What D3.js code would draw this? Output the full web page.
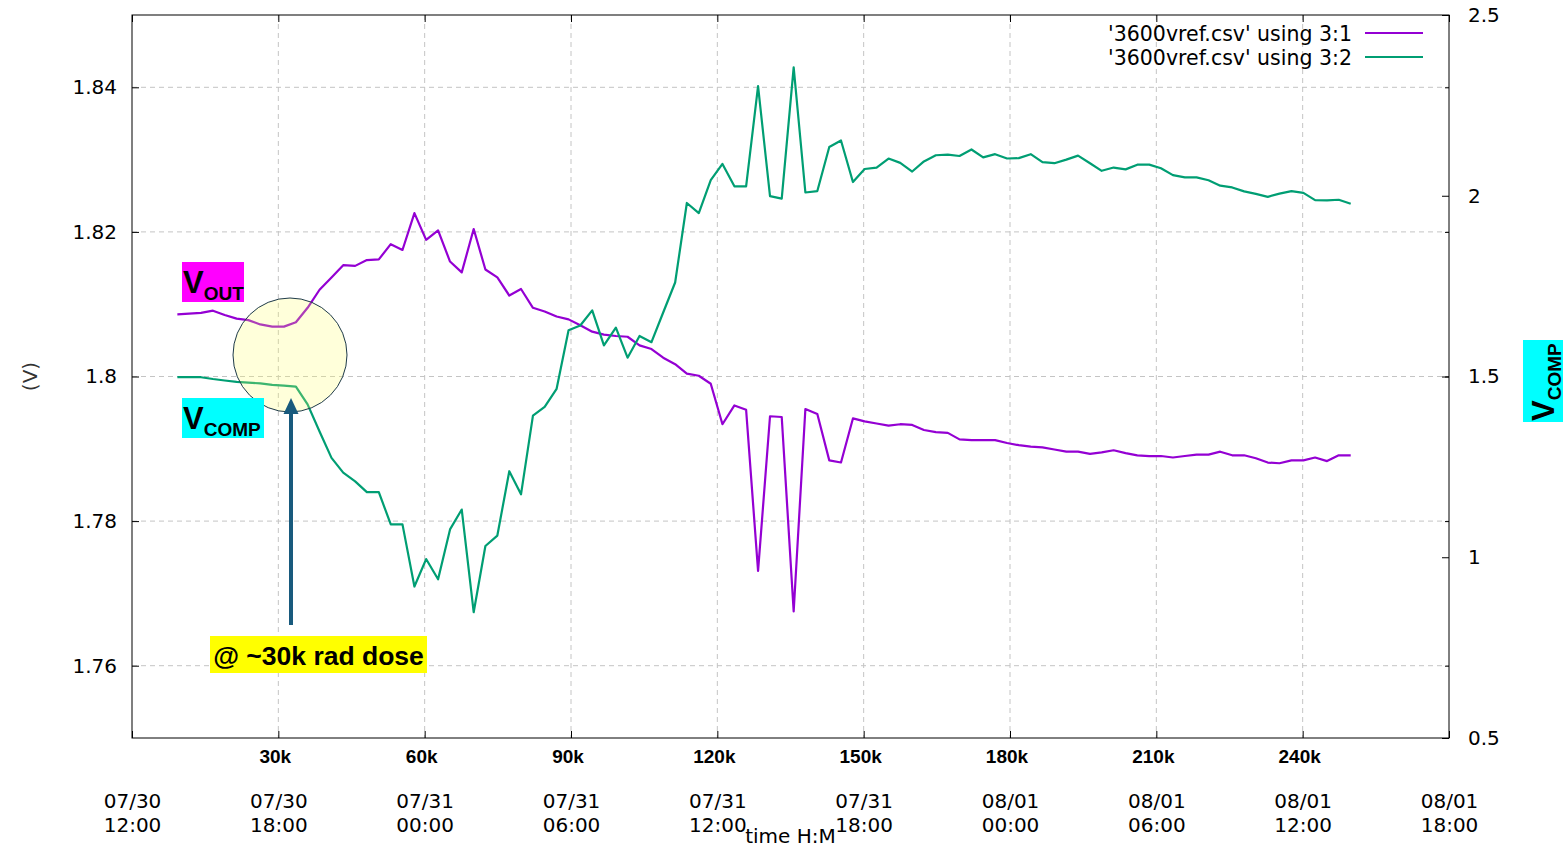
<!DOCTYPE html>
<html>
<head>
<meta charset="utf-8">
<title>3600vref</title>
<script src="https://cdn.jsdelivr.net/npm/d3@7"></script>
<style>
    body { margin: 0; background: #fff; }
    .axis text { font-family: "DejaVu Sans", sans-serif; font-size: 20px; fill: #000; }
    .axis line { stroke: #000; }
    .axis path { display: none; }
    .grid line { stroke: #c4c4c4; stroke-dasharray: 5,4; }
    .dose text { font-family: "Liberation Sans", Arial, sans-serif; font-weight: bold; font-size: 19px; }
    .legend text { font-family: "DejaVu Sans", sans-serif; font-size: 20.5px; }
    .tag text { font-family: "Liberation Sans", Arial, sans-serif; font-weight: bold; fill: #000; }
</style>
</head>
<body>
<div id="chart"></div>
<script>

// sample times, hours after 07/30 12:00
const hours = [
    1.86, 2.34, 2.83, 3.32, 3.80, 4.29, 4.77, 5.26, 5.75, 6.23,
    6.72, 7.20, 7.69, 8.18, 8.66, 9.15, 9.63, 10.12, 10.61, 11.09,
    11.58, 12.06, 12.55, 13.04, 13.52, 14.01, 14.49, 14.98, 15.47, 15.95,
    16.44, 16.92, 17.41, 17.90, 18.38, 18.87, 19.35, 19.84, 20.32, 20.81,
    21.30, 21.78, 22.27, 22.75, 23.24, 23.73, 24.21, 24.70, 25.18, 25.67,
    26.16, 26.64, 27.13, 27.61, 28.10, 28.59, 29.07, 29.56, 30.04, 30.53,
    31.02, 31.50, 31.99, 32.47, 32.96, 33.45, 33.93, 34.42, 34.90, 35.39,
    35.88, 36.36, 36.85, 37.33, 37.82, 38.31, 38.79, 39.28, 39.76, 40.25,
    40.74, 41.22, 41.71, 42.19, 42.68, 43.17, 43.65, 44.14, 44.62, 45.11,
    45.60, 46.08, 46.57, 47.05, 47.54, 48.03, 48.51, 49.00, 49.48, 49.97
];

// column 1 -> VOUT (left axis)
const vout = [
    1.8086, 1.8087, 1.8088, 1.8091, 1.8085, 1.8080, 1.8078, 1.8072, 1.8069, 1.8069,
    1.8075, 1.8095, 1.8120, 1.8137, 1.8154, 1.8153, 1.8161, 1.8162, 1.8183, 1.8175,
    1.8226, 1.8189, 1.8202, 1.8159, 1.8144, 1.8204, 1.8148, 1.8137, 1.8112, 1.8121,
    1.8095, 1.8090, 1.8083, 1.8079, 1.8071, 1.8062, 1.8058, 1.8056, 1.8055, 1.8043,
    1.8038, 1.8026, 1.8017, 1.8004, 1.8001, 1.7990, 1.7934, 1.7960, 1.7954, 1.7731,
    1.7945, 1.7944, 1.7675, 1.7955, 1.7948, 1.7884, 1.7881, 1.7942, 1.7938, 1.7935,
    1.7932, 1.7934, 1.7933, 1.7926, 1.7923, 1.7922, 1.7913, 1.7912, 1.7912, 1.7912,
    1.7908, 1.7905, 1.7903, 1.7902, 1.7899, 1.7896, 1.7896, 1.7893, 1.7895, 1.7898,
    1.7894, 1.7891, 1.7890, 1.7890, 1.7888, 1.7890, 1.7892, 1.7892, 1.7896, 1.7891,
    1.7891, 1.7887, 1.7881, 1.7880, 1.7884, 1.7884, 1.7888, 1.7883, 1.7891, 1.7891
];

// column 2 -> VCOMP (right axis)
const vcomp = [
    1.498, 1.498, 1.498, 1.493, 1.489, 1.485, 1.483, 1.481, 1.477, 1.475,
    1.472, 1.423, 1.348, 1.275, 1.234, 1.210, 1.180, 1.180, 1.091, 1.091,
    0.919, 0.995, 0.939, 1.077, 1.132, 0.848, 1.031, 1.060, 1.238, 1.174,
    1.392, 1.416, 1.466, 1.628, 1.641, 1.683, 1.586, 1.635, 1.552, 1.612,
    1.595, 1.677, 1.760, 1.980, 1.952, 2.043, 2.088, 2.026, 2.026, 2.303,
    1.999, 1.992, 2.355, 2.009, 2.013, 2.135, 2.153, 2.038, 2.074, 2.078,
    2.103, 2.091, 2.067, 2.095, 2.112, 2.114, 2.110, 2.128, 2.106, 2.115,
    2.103, 2.104, 2.115, 2.093, 2.090, 2.100, 2.111, 2.090, 2.069, 2.078,
    2.073, 2.086, 2.086, 2.076, 2.057, 2.051, 2.051, 2.043, 2.028, 2.023,
    2.012, 2.005, 1.997, 2.006, 2.013, 2.008, 1.988, 1.987, 1.989, 1.978
];

const leftTicks = [1.76, 1.78, 1.80, 1.82, 1.84];
const rightTicks = [0.5, 1, 1.5, 2, 2.5];
const doseTicks = [30000, 60000, 90000, 120000, 150000, 180000, 210000, 240000];
const legendLabels = ["'3600vref.csv' using 3:1", "'3600vref.csv' using 3:2"];


class VrefVis {

    constructor(parentElement) {
        this.parentElement = parentElement;

        // gnuplot default line colors
        this.colors = ['#9400d3', '#009e73'];

        this.startTime = new Date(2024, 6, 30, 12, 0);
        this.endTime = new Date(2024, 7, 1, 18, 0);

        this.initVis();
    }

    initVis() {
        let vis = this;

        vis.margin = {top: 15, right: 118, bottom: 111, left: 132};
        vis.width = 1567 - vis.margin.left - vis.margin.right;
        vis.height = 849 - vis.margin.top - vis.margin.bottom;

        vis.svg = d3.select("#" + vis.parentElement).append("svg")
            .attr("width", vis.width + vis.margin.left + vis.margin.right)
            .attr("height", vis.height + vis.margin.top + vis.margin.bottom)
            .append("g")
            .attr("transform", "translate(" + vis.margin.left + "," + vis.margin.top + ")");

        // scales
        vis.x = d3.scaleTime()
            .domain([vis.startTime, vis.endTime])
            .range([0, vis.width]);

        // 5k rad per hour, so 270k at the right edge
        vis.dose = d3.scaleLinear()
            .domain([0, 270000])
            .range([0, vis.width]);

        vis.y = d3.scaleLinear()
            .domain([1.75, 1.85])
            .range([vis.height, 0]);

        vis.y2 = d3.scaleLinear()
            .domain([0.5, 2.5])
            .range([vis.height, 0]);

        vis.timeTicks = d3.timeHour.every(6).range(vis.startTime, d3.timeMinute.offset(vis.endTime, 1));

        // grid
        vis.svg.append("g")
            .attr("class", "grid")
            .selectAll("line.h")
            .data(leftTicks)
            .enter().append("line")
            .attr("x1", 0)
            .attr("x2", vis.width)
            .attr("y1", d => vis.y(d))
            .attr("y2", d => vis.y(d));

        vis.svg.select(".grid")
            .selectAll("line.v")
            .data(vis.timeTicks.slice(1, -1))
            .enter().append("line")
            .attr("class", "v")
            .attr("x1", d => vis.x(d))
            .attr("x2", d => vis.x(d))
            .attr("y1", 0)
            .attr("y2", vis.height);

        // border
        vis.svg.append("rect")
            .attr("width", vis.width)
            .attr("height", vis.height)
            .attr("fill", "none")
            .attr("stroke", "#000")
            .attr("stroke-width", 1);

        // left axis + mirror
        vis.svg.append("g")
            .attr("class", "axis")
            .call(d3.axisLeft(vis.y).tickValues(leftTicks).tickSize(-7).tickPadding(15).tickFormat(d => d));

        vis.svg.append("g")
            .attr("class", "axis")
            .attr("transform", `translate(${vis.width}, 0)`)
            .call(d3.axisRight(vis.y).tickValues(leftTicks).tickSize(-4).tickFormat(""));

        // right axis
        vis.svg.append("g")
            .attr("class", "axis")
            .attr("transform", `translate(${vis.width}, 0)`)
            .call(d3.axisRight(vis.y2).tickValues(rightTicks).tickSize(-7).tickPadding(19).tickFormat(d => d));

        // time axis at the bottom, two line labels
        vis.xAxisG = vis.svg.append("g")
            .attr("class", "axis")
            .attr("transform", `translate(0, ${vis.height})`)
            .call(d3.axisBottom(vis.x).tickValues(vis.timeTicks).tickSize(-7).tickFormat(""));

        vis.xAxisG.selectAll(".tick text").remove();
        vis.xAxisG.selectAll(".tick").append("text")
            .attr("text-anchor", "middle")
            .each(function (d) {
                let t = d3.select(this);
                t.append("tspan").attr("x", 0).attr("y", 70).text(d3.timeFormat("%m/%d")(d));
                t.append("tspan").attr("x", 0).attr("y", 94).text(d3.timeFormat("%H:%M")(d));
            });

        vis.svg.append("g")
            .attr("class", "axis")
            .call(d3.axisTop(vis.x).tickValues(vis.timeTicks).tickSize(-7).tickFormat(""));

        // dose labels under the plot (hand placed in the original, a bit left of the grid)
        vis.doseG = vis.svg.append("g")
            .attr("class", "axis dose")
            .attr("transform", `translate(0, ${vis.height})`)
            .call(d3.axisBottom(vis.dose).tickValues(doseTicks).tickSize(0).tickFormat(d => (d / 1000) + "k"));

        vis.doseG.selectAll(".tick text")
            .attr("y", 25)
            .attr("dy", null)
            .attr("dx", -3.5);

        // axis titles
        vis.svg.append("text")
            .attr("transform", `translate(${30 - vis.margin.left}, ${vis.y(1.80)}) rotate(-90)`)
            .attr("text-anchor", "middle")
            .attr("dy", "0.35em")
            .style("font-family", "DejaVu Sans, sans-serif")
            .style("font-size", "20px")
            .attr("fill", "#333")
            .text("(V)");

        // lines
        vis.lineOut = d3.line()
            .x(d => vis.x(d.time))
            .y(d => vis.y(d.vout));

        vis.lineComp = d3.line()
            .x(d => vis.x(d.time))
            .y(d => vis.y2(d.vcomp));

        vis.pathOut = vis.svg.append("path")
            .attr("fill", "none")
            .attr("stroke", vis.colors[0])
            .attr("stroke-width", 2.2)
            .attr("stroke-linejoin", "round");

        vis.pathComp = vis.svg.append("path")
            .attr("fill", "none")
            .attr("stroke", vis.colors[1])
            .attr("stroke-width", 2.2)
            .attr("stroke-linejoin", "round");

        // legend (top right, inside the plot)
        vis.legend = vis.svg.append("g")
            .attr("class", "legend")
            .attr("transform", `translate(${vis.width - 84}, 0)`);

        legendLabels.forEach((label, i) => {
            vis.legend.append("text")
                .attr("x", -13)
                .attr("y", 26 + i * 24)
                .attr("text-anchor", "end")
                .text(label);
            vis.legend.append("line")
                .attr("x1", 0)
                .attr("x2", 58)
                .attr("y1", 18 + i * 24)
                .attr("y2", 18 + i * 24)
                .attr("stroke", vis.colors[i])
                .attr("stroke-width", 2.2);
        });

        vis.wrangleData();
    }

    wrangleData() {
        let vis = this;

        vis.displayData = hours.map((h, i) => ({
            time: new Date(vis.startTime.getTime() + h * 3600000),
            vout: vout[i],
            vcomp: vcomp[i]
        }));

        vis.updateVis();
    }

    // boxed V label with subscript, drawn in the group's own coordinates
    drawTag(g, sub, boxWidth, color) {
        g.append("rect")
            .attr("width", boxWidth)
            .attr("height", 40)
            .attr("fill", color);
        let t = g.append("text").attr("class", "tagText");
        t.append("tspan").attr("x", 1).attr("y", 31).style("font-size", "31px").text("V");
        t.append("tspan").attr("y", 38).style("font-size", "19px").text(sub);
    }

    updateVis() {
        let vis = this;

        vis.pathOut.attr("d", vis.lineOut(vis.displayData));
        vis.pathComp.attr("d", vis.lineComp(vis.displayData));

        // annotations (drawn in page coordinates)
        let notes = vis.svg.append("g")
            .attr("class", "tag")
            .attr("transform", `translate(${-vis.margin.left}, ${-vis.margin.top})`);

        notes.append("circle")
            .attr("cx", 290)
            .attr("cy", 355)
            .attr("r", 57)
            .attr("fill", "#ffff66")
            .attr("fill-opacity", 0.24)
            .attr("stroke", "#1e3a4a")
            .attr("stroke-width", 1);

        notes.append("line")
            .attr("x1", 291).attr("x2", 291)
            .attr("y1", 625).attr("y2", 412)
            .attr("stroke", "#185a7d")
            .attr("stroke-width", 4);

        notes.append("path")
            .attr("d", "M291,398 L283.5,414 L298.5,414 Z")
            .attr("fill", "#185a7d");

        vis.drawTag(notes.append("g").attr("transform", "translate(182, 262)"), "OUT", 62, "#ff00ff");
        vis.drawTag(notes.append("g").attr("transform", "translate(182, 398)"), "COMP", 82, "#00ffff");
        vis.drawTag(notes.append("g").attr("transform", "translate(1523, 422) rotate(-90)"), "COMP", 82, "#00ffff");

        notes.append("rect")
            .attr("x", 210).attr("y", 636)
            .attr("width", 217).attr("height", 37)
            .attr("fill", "#ffff00");

        notes.append("text")
            .attr("x", 318.5)
            .attr("y", 665)
            .attr("text-anchor", "middle")
            .style("font-size", "26.5px")
            .text("@ ~30k rad dose");

        // x axis title, sits on top of the date labels
        vis.svg.append("text")
            .attr("x", vis.x(d3.timeHour.offset(vis.startTime, 27.7)))
            .attr("y", 843 - vis.margin.top)
            .attr("text-anchor", "middle")
            .style("font-family", "DejaVu Sans, sans-serif")
            .style("font-size", "20px")
            .text("time H:M");
    }
}

new VrefVis("chart");

</script>
</body>
</html>
